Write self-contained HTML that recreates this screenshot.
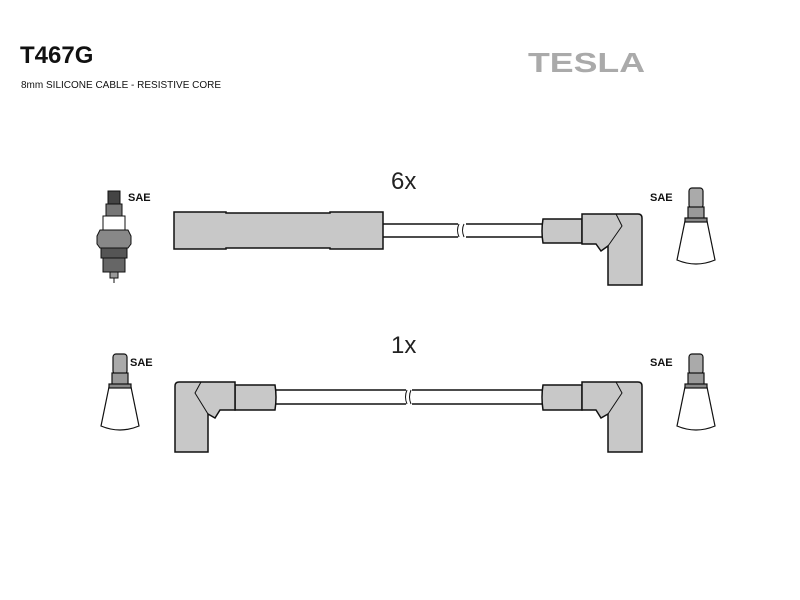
<!DOCTYPE html>
<html><head><style>
body{margin:0;background:#fff;}
svg{display:block;}
text{font-family:"Liberation Sans",sans-serif;}
</style></head><body>
<svg width="800" height="600" viewBox="0 0 800 600" xmlns="http://www.w3.org/2000/svg">
<text x="20" y="63" font-size="24" font-weight="bold" fill="#111">T467G</text>
<text x="21" y="88" font-size="10" fill="#111">8mm SILICONE CABLE - RESISTIVE CORE</text>
<text x="528" y="72" font-size="28" font-weight="bold" fill="#aaa" font-family="Liberation Serif" textLength="117" lengthAdjust="spacingAndGlyphs">TESLA</text>

<text x="391" y="189" font-size="24" fill="#222">6x</text>
<text x="391" y="353" font-size="24" fill="#222">1x</text>

<g stroke="#111" stroke-width="1.5" fill="#c8c8c8">
<line x1="383" y1="224" x2="458" y2="224"/><line x1="383" y1="237" x2="458" y2="237"/>
<line x1="466" y1="224" x2="543" y2="224"/><line x1="466" y1="237" x2="543" y2="237"/>
<path d="M459 224 q-3 6 0 13 M464 224 q-3 6 0 13" fill="none" stroke-width="1"/>
<path d="M174 212 H226 V213 H330 V212 H383 V249 H330 V248 H226 V249 H174 Z"/>
<path d="M543 219 H582 V243 H543 Q541 231 543 219 Z"/>
<path d="M582 214 H638 Q642 214 642 218 V285 H608 V246 L601 251 L596 244 H582 Z"/>
<path d="M616 214 L622 226 L608 246" fill="none" stroke-width="1"/>

<line x1="275" y1="390" x2="406" y2="390"/><line x1="275" y1="404" x2="406" y2="404"/>
<line x1="412" y1="390" x2="543" y2="390"/><line x1="412" y1="404" x2="543" y2="404"/>
<path d="M407 390 q-3 7 0 14 M411 390 q-3 7 0 14" fill="none" stroke-width="1"/>
<path d="M275 385 H235 V410 H275 Q277 397 275 385 Z"/>
<path d="M235 382 H179 Q175 382 175 386 V452 H208 V414 L215 418 L220 410 H235 Z"/>
<path d="M201 382 L195 393 L208 414" fill="none" stroke-width="1"/>
<path d="M543 385 H582 V410 H543 Q541 397 543 385 Z"/>
<path d="M582 382 H638 Q642 382 642 386 V452 H608 V414 L601 418 L596 410 H582 Z"/>
<path d="M616 382 L622 393 L608 414" fill="none" stroke-width="1"/>
</g>

<g id="term" stroke="#111" stroke-width="1.2">
<rect x="689" y="188" width="14" height="20" rx="3" fill="#aaa"/>
<rect x="688" y="207" width="16" height="12" fill="#999"/>
<path d="M685 221 H707 L715 260 Q696 268 677 260 Z" fill="#fff"/>
<rect x="685" y="218" width="22" height="4" fill="#888"/>
</g>
<use href="#term" transform="translate(0,166)"/>
<use href="#term" transform="translate(-576,166)"/>

<g stroke="#111" stroke-width="1">
<rect x="108" y="191" width="12" height="14" fill="#444"/>
<rect x="106" y="204" width="16" height="12" fill="#777"/>
<rect x="103" y="216" width="22" height="14" fill="#fff"/>
<path d="M100 230 H128 L131 236 V244 L128 248 H100 L97 244 V236 Z" fill="#888"/>
<rect x="101" y="248" width="26" height="10" fill="#555"/>
<rect x="103" y="258" width="22" height="14" fill="#666"/>
<rect x="110" y="272" width="8" height="6" fill="#999"/>
<line x1="114" y1="278" x2="114" y2="283"/>
</g>

<g font-size="11" font-weight="bold" fill="#111">
<text x="128" y="201">SAE</text>
<text x="650" y="201">SAE</text>
<text x="130" y="366">SAE</text>
<text x="650" y="366">SAE</text>
</g>
</svg>
</body></html>
